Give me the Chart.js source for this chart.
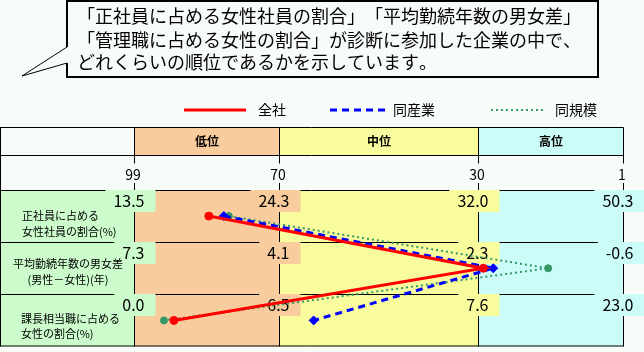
<!DOCTYPE html>
<html lang="ja">
<head>
<meta charset="utf-8">
<script src="https://cdn.jsdelivr.net/npm/chart.js@4"></script>
<style>
  html, body { margin: 0; padding: 0; background: #f8fcf8; }
  canvas { display: block; }
</style>
</head>
<body>
<canvas id="chart" width="644" height="352"></canvas>
<script>
// rows (categories) and rank axis
const rowNames = ['正社員に占める女性社員の割合', '平均勤続年数の男女差', '課長相当職に占める女性の割合'];
const rowLabelLines = [
    ['正社員に占める', '女性社員の割合(%)'],
    ['平均勤続年数の男女差', '(男性－女性)(年)'],
    ['課長相当職に占める', '女性の割合(%)'],
];
const rankTicks = [99, 70, 30, 1];
const bandNames = ['低位', '中位', '高位'];

// value at each rank boundary, per row
const femaleStaffValues = ['13.5', '24.3', '32.0', '50.3'];
const tenureGapValues = ['7.3', '4.1', '2.3', '-0.6'];
const femaleManagerValues = ['0.0', '6.5', '7.6', '23.0'];

// rank of each series, per row
const allCompanies = [84, 29, 91];
const sameIndustry = [81, 27, 63];
const sameSize = [80, 16, 93];

const seriesNames = ['全社', '同産業', '同規模'];

const bubbleLines = [
    '「正社員に占める女性社員の割合」「平均勤続年数の男女差」',
    '「管理職に占める女性の割合」が診断に参加した企業の中で、',
    'どれくらいの順位であるかを示しています。',
];

const FONT = '"Noto Sans CJK JP", "Noto Sans", sans-serif';
const green = '#ccfccc';
const bandColors = ['#f8cc9c', '#f8fc9c', '#ccfcf8'];

const tablePlugin = {
    id: 'table',
    beforeDatasetsDraw(chart) {
        const { ctx, chartArea: a, scales: { x } } = chart;
        const xs = rankTicks.map(r => Math.round(x.getPixelForValue(r)) + 0.5);
        const rowH = (a.bottom - a.top) / 3;
        const rowTop = i => Math.round(a.top + i * rowH) + 0.5;
        const headTop = a.top - 62.5;
        const headBottom = a.top - 34.5;

        ctx.save();

        // speech bubble
        ctx.fillStyle = '#f8fcf8';
        ctx.strokeStyle = '#000';
        ctx.beginPath();
        ctx.moveTo(67, 47);
        ctx.lineTo(22, 76);
        ctx.lineTo(67, 63);
        ctx.lineTo(67, 77);
        ctx.lineTo(598, 77);
        ctx.lineTo(598, 1);
        ctx.lineTo(67, 1);
        ctx.closePath();
        ctx.fill();
        ctx.lineWidth = 2;
        ctx.beginPath();
        ctx.moveTo(67, 47);
        ctx.lineTo(67, 1);
        ctx.lineTo(598, 1);
        ctx.lineTo(598, 77);
        ctx.lineTo(67, 77);
        ctx.lineTo(67, 63);
        ctx.stroke();
        ctx.lineWidth = 1;
        ctx.beginPath();
        ctx.moveTo(67, 47);
        ctx.lineTo(22, 76);
        ctx.lineTo(67, 63);
        ctx.stroke();

        // bubble text on a fixed 18px grid, like the original bitmap font
        ctx.fillStyle = '#000';
        ctx.font = '18px ' + FONT;
        ctx.textBaseline = 'middle';
        ctx.textAlign = 'left';
        [16, 40, 62].forEach((yy, i) => {
            Array.from(bubbleLines[i]).forEach((ch, k) => ctx.fillText(ch, 77 + k * 18, yy));
        });

        // legend
        const ds = chart.data.datasets;
        const legendX = [[184, 246, 258], [330, 386, 393], [491, 544, 555]];
        ds.forEach((d, i) => {
            const [x0, x1, tx] = legendX[i];
            ctx.strokeStyle = d.borderColor;
            ctx.lineWidth = d.borderWidth;
            ctx.setLineDash(d.borderDash || []);
            ctx.beginPath();
            ctx.moveTo(x0, 110);
            ctx.lineTo(x1, 110);
            ctx.stroke();
            ctx.setLineDash([]);
            ctx.fillStyle = '#000';
            ctx.font = '14px ' + FONT;
            ctx.fillText(d.label, tx, 110);
        });

        // fills
        ctx.fillStyle = green;
        ctx.fillRect(0, a.top, xs[0], a.bottom - a.top);
        for (let i = 0; i < 3; i++) {
            ctx.fillStyle = bandColors[i];
            ctx.fillRect(xs[i], headTop, xs[i + 1] - xs[i], headBottom - headTop);
            ctx.fillRect(xs[i], a.top, xs[i + 1] - xs[i], a.bottom - a.top);
        }

        // grid lines
        ctx.strokeStyle = '#000';
        ctx.lineWidth = 1;
        ctx.beginPath();
        [headTop, headBottom, rowTop(0), rowTop(1), rowTop(2), a.bottom - 0.5].forEach(yy => {
            ctx.moveTo(0, yy);
            ctx.lineTo(xs[3], yy);
        });
        ctx.moveTo(0.5, headTop);
        ctx.lineTo(0.5, a.bottom);
        xs.forEach(xx => {
            ctx.moveTo(xx, headTop);
            ctx.lineTo(xx, headBottom + 8);
            ctx.moveTo(xx, a.top - 7);
            ctx.lineTo(xx, a.bottom);
        });
        ctx.stroke();

        // header names
        ctx.fillStyle = '#000';
        ctx.textAlign = 'center';
        ctx.font = 'bold 12px ' + FONT;
        bandNames.forEach((n, i) => ctx.fillText(n, (xs[i] + xs[i + 1]) / 2, (headTop + headBottom) / 2));

        // rank tick labels
        ctx.font = '14px ' + FONT;
        rankTicks.forEach((r, i) => ctx.fillText(String(r), xs[i] - 1.5, a.top - 15));

        // value boxes at each rank boundary
        const rowValues = [femaleStaffValues, tenureGapValues, femaleManagerValues];
        ctx.font = '16px ' + FONT;
        ctx.textAlign = 'right';
        rowValues.forEach((vals, r) => {
            const top = rowTop(r) - 0.5;
            vals.forEach((v, i) => {
                const w = ctx.measureText(v).width;
                const right = xs[i] + 21;
                const left = xs[i] + 10 - w - 8;
                ctx.fillStyle = i === 0 ? green : bandColors[i - 1];
                ctx.fillRect(left, top, right - left, 22);
                ctx.fillStyle = '#000';
                ctx.fillText(v, xs[i] + 10, top + 11);
            });
        });

        // row labels
        ctx.font = '11px ' + FONT;
        const labelPos = [['left', 22, 25, 41], ['center', 68, 21, 37], ['left', 21, 24, 39]];
        rowLabelLines.forEach((lines, r) => {
            const [align, lx, y1, y2] = labelPos[r];
            ctx.textAlign = align;
            ctx.fillText(lines[0], lx, rowTop(r) + y1);
            ctx.fillText(lines[1], lx, rowTop(r) + y2);
        });

        ctx.restore();
    }
};

new Chart(document.getElementById('chart'), {
    type: 'line',
    data: {
        labels: rowNames,
        datasets: [
            {
                label: seriesNames[0],
                data: allCompanies,
                borderColor: '#ff0000',
                backgroundColor: '#ff0000',
                borderWidth: 3,
                pointStyle: 'circle',
                pointRadius: 4,
                pointBorderWidth: 1,
            },
            {
                label: seriesNames[1],
                data: sameIndustry,
                borderColor: '#0000ff',
                backgroundColor: '#0000ff',
                borderWidth: 3,
                borderDash: [7, 5],
                pointStyle: 'rectRot',
                pointRadius: 4.5,
                pointBorderWidth: 1,
            },
            {
                label: seriesNames[2],
                data: sameSize,
                borderColor: '#339966',
                backgroundColor: '#339966',
                borderWidth: 2,
                borderDash: [2, 3],
                pointStyle: 'circle',
                pointRadius: 3.5,
                pointBorderWidth: 1,
            },
        ]
    },
    options: {
        indexAxis: 'y',
        responsive: false,
        animation: false,
        events: [],
        layout: { padding: { left: 134, right: 21, top: 190, bottom: 1 } },
        scales: {
            x: { type: 'linear', min: 1, max: 99, reverse: true, display: false },
            y: { type: 'category', offset: true, display: false }
        },
        elements: { line: { tension: 0 } },
        plugins: {
            legend: { display: false },
            tooltip: { enabled: false }
        }
    },
    plugins: [tablePlugin]
});
</script>
</body>
</html>
